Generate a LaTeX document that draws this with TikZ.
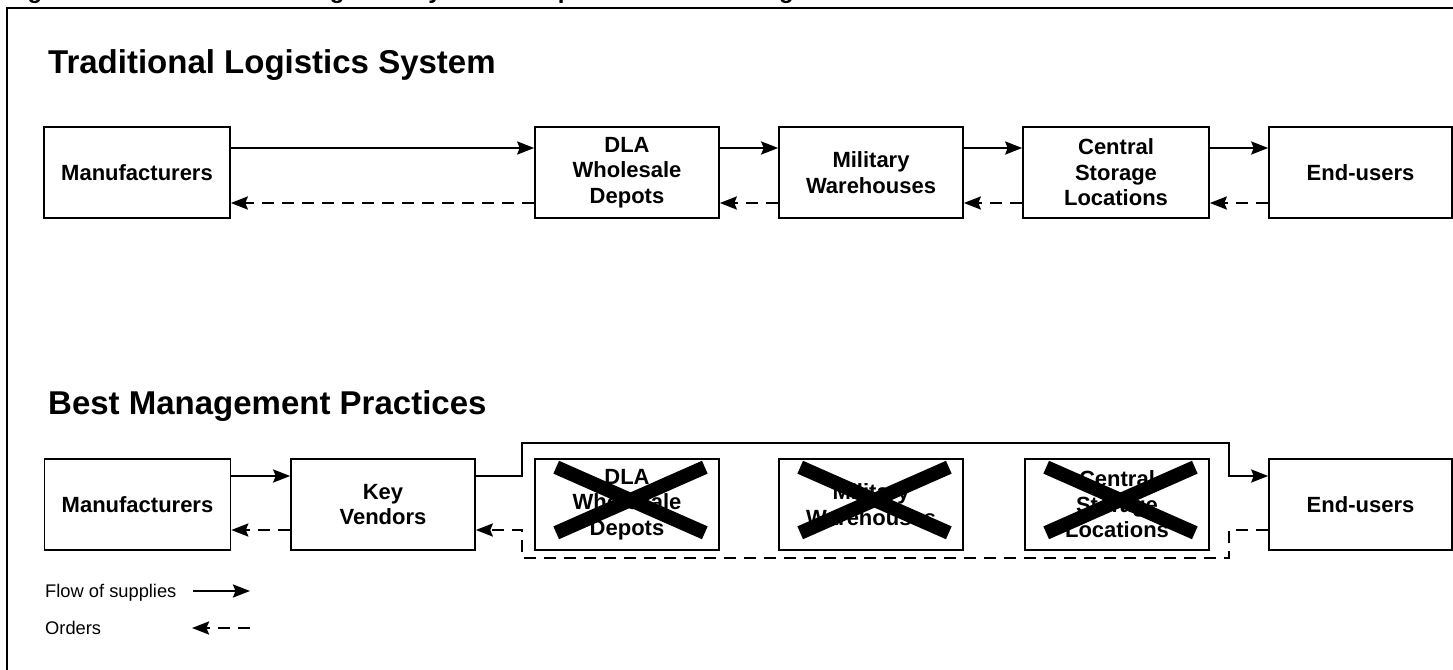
\documentclass[tikz,border=0pt]{standalone}
\usepackage{fontspec}
\setmainfont{Liberation Sans}
\usetikzlibrary{arrows.meta,calc}
\begin{document}
\begin{tikzpicture}[x=1pt,y=-1pt,
  box/.style={draw,line width=1.6pt,minimum width=184pt,minimum height=91pt,inner sep=0pt,align=center,
    font=\bfseries\fontsize{22}{25.5}\selectfont},
  head/.style={anchor=base west,inner sep=0pt,font=\bfseries\fontsize{33}{38}\selectfont},
  legtext/.style={anchor=base west,inner sep=0pt,font=\fontsize{18.3}{21}\selectfont},
  tip/.style={-{Stealth[length=17pt,width=13pt,inset=2.5pt]}},
  flow/.style={line width=2.4pt,tip},
  order/.style={line width=2.4pt,dash pattern=on 12pt off 8pt,tip},
  cross/.style={line width=14pt}]
\useasboundingbox (0,0) rectangle (1453,669);
\clip (0,0) rectangle (1453,669);

% cut-off figure title and frame
\node[anchor=base west,inner sep=0pt,font=\bfseries\fontsize{24}{28}\selectfont] (fig) at (6,-1)
  {Figure 3: Traditional DoD Logistics System Compared to Best Management Practices};
\draw[line width=2pt] (7,690) -- (7,8) -- (1470,8);

% headings
\node[head] (h1) at (48,74) {Traditional Logistics System};
\node[head] (h2) at (48,414) {Best Management Practices};

% row coordinates
\coordinate (r1s) at (0,148);
\coordinate (r1d) at (0,203);
\coordinate (r2s) at (0,476);
\coordinate (r2d) at (0,530);

% top row
\node[box,minimum width=186pt] (m1) at (137,172.5) {Manufacturers};
\node[box] (d1) at (627,172.5) {DLA\\Wholesale\\Depots};
\node[box] (w1) at (871,172.5) {Military\\Warehouses};
\node[box,minimum width=186pt] (c1) at (1116,172.5) {Central\\Storage\\Locations};
\node[box,minimum width=183pt] (e1) at (1360.5,172.5) {End-users};

\draw[flow] (m1.east |- r1s) -- (d1.west |- r1s);
\draw[flow] (d1.east |- r1s) -- (w1.west |- r1s);
\draw[flow] (w1.east |- r1s) -- (c1.west |- r1s);
\draw[flow] (c1.east |- r1s) -- (e1.west |- r1s);
\draw[order] (d1.west |- r1d) -- (m1.east |- r1d);
\draw[order] (w1.west |- r1d) -- (d1.east |- r1d);
\draw[order] (c1.west |- r1d) -- (w1.east |- r1d);
\draw[order] (e1.west |- r1d) -- (c1.east |- r1d);

% bottom row
\node[box,minimum width=186pt] (m2) at (137.5,504.5) {Manufacturers};
\node[box] (k2) at (383,504.5) {Key\\Vendors};
\node[box] (d2) at (627,504.5) {DLA\\Wholesale\\Depots};
\node[box] (w2) at (871,504.5) {Military\\Warehouses};
\node[box] (c2) at (1117,504.5) {Central\\Storage\\Locations};
\node[box,minimum width=183pt] (e2) at (1360.5,504.5) {End-users};

\foreach \n in {d2,w2,c2}{
  \draw[cross] ($(\n.north west)+(22,9)$) -- ($(\n.south east)+(-15,-18)$);
  \draw[cross] ($(\n.south west)+(22,-18)$) -- ($(\n.north east)+(-15,9)$);
}

\coordinate (bl) at (522,443);
\coordinate (br) at (1229,443);
\coordinate (dl) at (522,558);
\coordinate (dr) at (1229,558);

\draw[flow] (m2.east |- r2s) -- (k2.west |- r2s);
\draw[order] (k2.west |- r2d) -- (m2.east |- r2d);
\draw[flow] (k2.east |- r2s) -| (bl) -- (br) |- (e2.west |- r2s);
\draw[order] (e2.west |- r2d) -| (dr) -- (dl) |- (k2.east |- r2d);

% legend
\node[legtext] (lf) at (45,597.5) {Flow of supplies};
\node[legtext] (lo) at (45,634) {Orders};
\coordinate (lfa) at (193,591);
\coordinate (lfb) at (250,591);
\coordinate (loa) at (250,628);
\coordinate (lob) at (192,628);
\draw[flow] (lfa) -- (lfb);
\draw[order] (loa) -- (lob);
\end{tikzpicture}
\end{document}
